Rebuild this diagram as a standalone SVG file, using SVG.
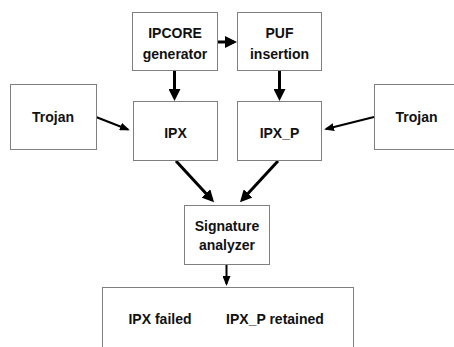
<svg xmlns="http://www.w3.org/2000/svg" width="454" height="347" viewBox="0 0 454 347">
<style>
.box{fill:#fff;stroke:#7f7f7f;stroke-width:1}
.t{font-family:"Liberation Sans",Arial,sans-serif;font-weight:bold;font-size:14px;fill:#111;text-anchor:middle}
.c{fill:none;stroke:#000}
.thick{stroke-width:3}
.mid{stroke-width:2}
</style>
<defs>
<marker id="ah" markerWidth="4" markerHeight="4" refX="3" refY="2" orient="auto" markerUnits="strokeWidth">
<path d="M0,0 L4,2 L0,4 z" fill="#000"/>
</marker>
<marker id="ah2" markerWidth="5" markerHeight="4" refX="4" refY="2" orient="auto" markerUnits="strokeWidth">
<path d="M0,0 L5,2 L0,4 z" fill="#000"/>
</marker>
</defs>
<rect width="454" height="347" fill="#fff"/>
<g id="connectors">
<line class="c thick" x1="217" y1="42" x2="234" y2="42" marker-end="url(#ah)"/>
<line class="c thick" x1="174.5" y1="70" x2="174.5" y2="98" marker-end="url(#ah)"/>
<line class="c thick" x1="279.5" y1="70" x2="279.5" y2="98" marker-end="url(#ah)"/>
<line class="c mid" x1="96" y1="117" x2="128" y2="129.5" marker-end="url(#ah2)"/>
<line class="c mid" x1="374" y1="117" x2="326" y2="129" marker-end="url(#ah2)"/>
<line class="c thick" x1="176" y1="161" x2="212" y2="200" marker-end="url(#ah)"/>
<line class="c thick" x1="278" y1="161" x2="242" y2="200" marker-end="url(#ah)"/>
<line class="c mid" x1="226.5" y1="264" x2="226.5" y2="284" marker-end="url(#ah2)"/>
</g>
<g id="ipcore"><rect class="box" x="132.5" y="12.5" width="85" height="58"/><text class="t" x="175" y="38">IPCORE</text><text class="t" x="175" y="59">generator</text></g>
<g id="puf"><rect class="box" x="237.5" y="12.5" width="84" height="58"/><text class="t" x="279.5" y="38">PUF</text><text class="t" x="279.5" y="59">insertion</text></g>
<g id="trojan-left"><rect class="box" x="10.5" y="84.5" width="86" height="65"/><text class="t" x="53" y="122">Trojan</text></g>
<g id="ipx"><rect class="box" x="133.5" y="101.5" width="84" height="59"/><text class="t" x="175.5" y="138">IPX</text></g>
<g id="ipx-p"><rect class="box" x="237.5" y="101.5" width="84" height="59"/><text class="t" x="279.5" y="138">IPX_P</text></g>
<g id="trojan-right"><rect class="box" x="374.5" y="84.5" width="86" height="65"/><text class="t" x="416.5" y="122">Trojan</text></g>
<g id="signature"><rect class="box" x="184.5" y="205.5" width="85" height="59"/><text class="t" x="227" y="231">Signature</text><text class="t" x="227" y="250">analyzer</text></g>
<g id="result"><rect class="box" x="102.5" y="287.5" width="251" height="70"/><text class="t" x="160" y="324">IPX failed</text><text class="t" x="275" y="324">IPX_P retained</text></g>
</svg>
